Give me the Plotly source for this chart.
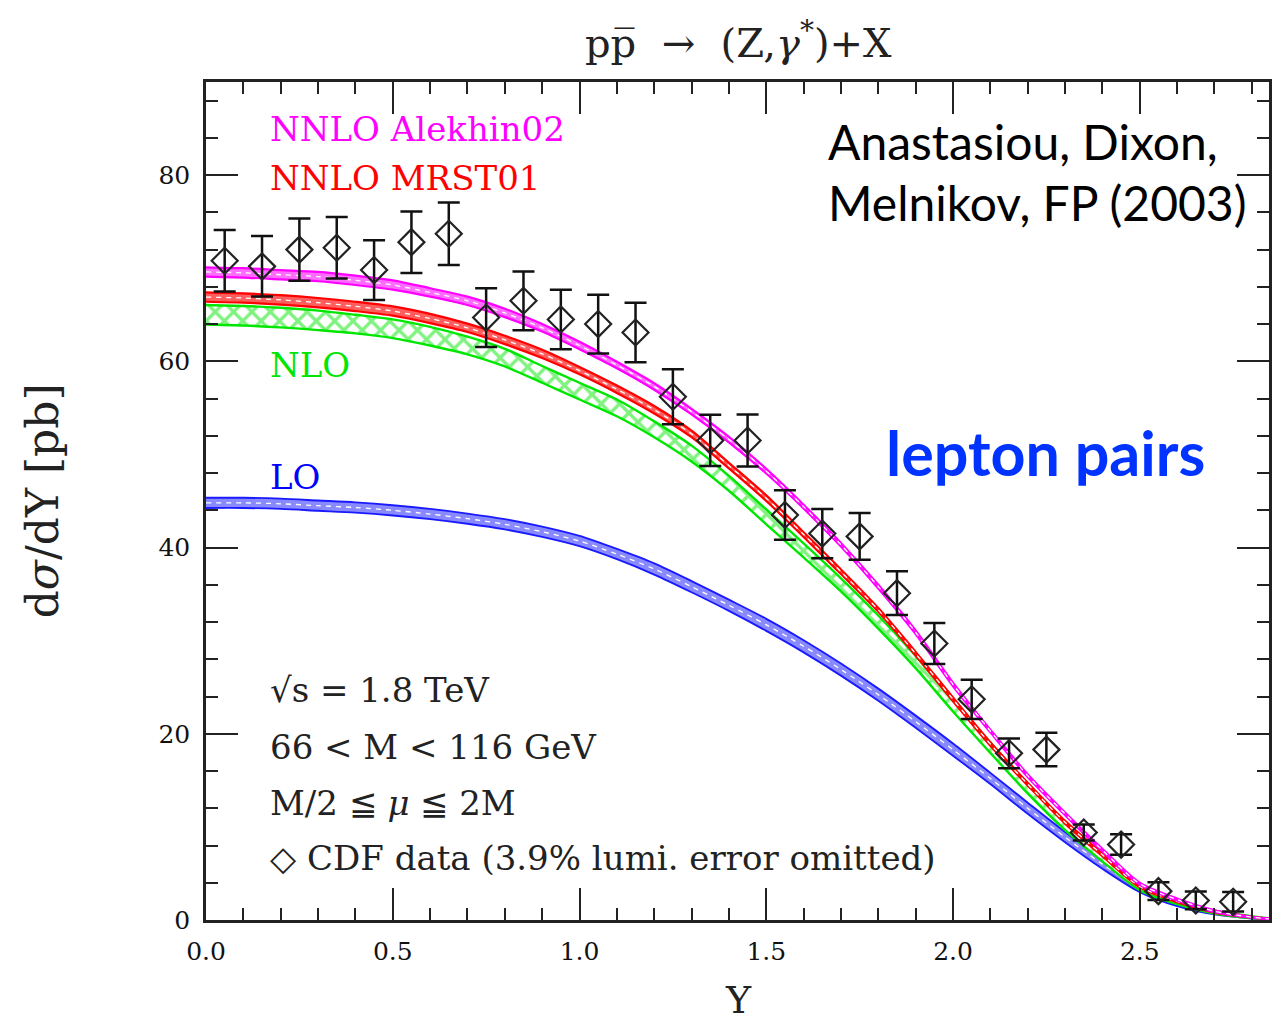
import plotly.graph_objects as go

# ---------------- data ----------------
Y_GRID = [0.0, 0.1, 0.2, 0.3, 0.4, 0.5, 0.6, 0.7, 0.8, 0.9, 1.0, 1.1, 1.2, 1.3, 1.4,
          1.5, 1.6, 1.7, 1.8, 1.9, 2.0, 2.1, 2.2, 2.3, 2.4, 2.5, 2.6, 2.7, 2.8, 2.85]

NNLO_ALEKHIN = [69.6, 69.5, 69.3, 69.1, 68.7, 68.2, 67.4, 66.5, 65.2, 63.6, 61.7, 59.6, 57.3, 54.6, 51.6,
                48.2, 44.4, 40.3, 35.8, 30.9, 25.3, 20.3, 15.5, 11.4, 7.5, 3.9, 2.2, 0.95, 0.3, 0.1]
NNLO_ALEKHIN_HW = [0.5, 0.5, 0.5, 0.5, 0.5, 0.5, 0.45, 0.45, 0.45, 0.4, 0.4, 0.35, 0.35, 0.3, 0.3,
                   0.25, 0.2, 0.2, 0.2, 0.2, 0.2, 0.15, 0.15, 0.15, 0.15, 0.1, 0.1, 0.1, 0.05, 0.05]

NNLO_MRST = [66.9, 66.8, 66.6, 66.3, 65.9, 65.4, 64.6, 63.6, 62.3, 60.8, 59.0, 57.0, 54.8, 52.2, 48.8,
             45.3, 41.4, 37.4, 33.3, 28.6, 23.7, 18.9, 14.6, 10.5, 7.0, 3.6, 2.0, 0.9, 0.3, 0.1]
NNLO_MRST_HW = [0.5, 0.5, 0.5, 0.5, 0.5, 0.5, 0.5, 0.45, 0.45, 0.45, 0.4, 0.4, 0.4, 0.35, 0.3,
                0.3, 0.25, 0.25, 0.2, 0.2, 0.2, 0.2, 0.15, 0.15, 0.15, 0.1, 0.1, 0.1, 0.05, 0.05]

NLO = [65.0, 64.9, 64.7, 64.4, 64.0, 63.5, 62.7, 61.7, 60.4, 58.6, 56.8, 55.0, 52.7, 50.1, 46.9,
       43.3, 39.7, 36.0, 32.0, 27.7, 23.0, 18.5, 14.1, 10.1, 6.7, 3.5, 1.9, 0.85, 0.3, 0.1]
NLO_HW = [1.05, 1.05, 1.05, 1.05, 1.0, 1.0, 1.0, 0.95, 0.95, 0.9, 0.9, 0.9, 0.85, 0.85, 0.8,
          0.8, 0.75, 0.7, 0.7, 0.65, 0.6, 0.55, 0.5, 0.45, 0.4, 0.3, 0.2, 0.15, 0.1, 0.05]

LO = [44.8, 44.8, 44.7, 44.5, 44.3, 44.0, 43.6, 43.1, 42.5, 41.7, 40.7, 39.3, 37.7, 35.8, 33.8,
      31.7, 29.4, 26.9, 24.2, 21.3, 18.3, 15.2, 12.0, 8.9, 6.0, 3.4, 1.8, 0.8, 0.25, 0.08]
LO_HW = [0.55, 0.55, 0.55, 0.55, 0.55, 0.55, 0.55, 0.55, 0.55, 0.55, 0.55, 0.55, 0.6, 0.6, 0.6,
         0.65, 0.65, 0.65, 0.65, 0.65, 0.65, 0.6, 0.6, 0.55, 0.5, 0.4, 0.3, 0.2, 0.1, 0.05]

CDF_Y = [0.05, 0.15, 0.25, 0.35, 0.45, 0.55, 0.65, 0.75, 0.85, 0.95, 1.05, 1.15, 1.25, 1.35,
         1.45, 1.55, 1.65, 1.75, 1.85, 1.95, 2.05, 2.15, 2.25, 2.35, 2.45, 2.55, 2.65, 2.75]
CDF_VAL = [70.8, 70.2, 72.0, 72.2, 69.8, 72.8, 73.7, 64.7, 66.5, 64.5, 64.0, 63.1, 56.2, 51.5,
           51.5, 43.5, 41.5, 41.2, 35.1, 29.7, 23.7, 17.9, 18.3, 9.4, 8.1, 3.1, 2.1, 1.95]
CDF_ERR = [3.3, 3.25, 3.35, 3.3, 3.2, 3.3, 3.35, 3.15, 3.15, 3.2, 3.15, 3.2, 2.95, 2.75,
           2.8, 2.65, 2.65, 2.5, 2.35, 2.2, 2.1, 1.6, 1.8, 0.85, 1.1, 0.95, 0.95, 1.05]

X_TICKS = [0.0, 0.5, 1.0, 1.5, 2.0, 2.5]
X_TICKTEXT = ["0.0", "0.5", "1.0", "1.5", "2.0", "2.5"]
Y_TICKS = [0, 20, 40, 60, 80]

SERIF = "DejaVu Serif"
AXCOL = "#222222"

fig = go.Figure()


def add_band(center, hw, color, fill_rgba, pattern=None, dash_center=True, lw=2.0):
    lo = [c - h for c, h in zip(center, hw)]
    hi = [c + h for c, h in zip(center, hw)]
    line = dict(color=color, width=lw, shape="spline", smoothing=0.8)
    fig.add_trace(go.Scatter(x=Y_GRID, y=lo, mode="lines", line=line,
                             showlegend=False, hoverinfo="skip"))
    kw = dict(fill="tonexty")
    if pattern:
        kw["fillcolor"] = "white"
        kw["fillpattern"] = dict(shape=pattern, fgcolor=color, bgcolor="white",
                                 size=13, solidity=0.45)
    else:
        kw["fillcolor"] = fill_rgba
    fig.add_trace(go.Scatter(x=Y_GRID, y=hi, mode="lines", line=line,
                             showlegend=False, hoverinfo="skip", **kw))
    if dash_center:
        fig.add_trace(go.Scatter(x=Y_GRID, y=center, mode="lines",
                                 line=dict(color="white", width=1.3, dash="5px,5px",
                                           shape="spline", smoothing=0.8),
                                 showlegend=False, hoverinfo="skip"))


add_band(LO, LO_HW, "#1a1aff", "rgba(60,60,255,0.6)", lw=1.9)
add_band(NLO, NLO_HW, "#00e600", None, pattern="x", dash_center=False, lw=2.4)
add_band(NNLO_MRST, NNLO_MRST_HW, "#ff0000", "rgba(255,40,40,0.75)", lw=2.2)
add_band(NNLO_ALEKHIN, NNLO_ALEKHIN_HW, "#ff00ff", "rgba(255,60,255,0.75)", lw=2.2)

fig.add_trace(go.Scatter(
    x=CDF_Y, y=CDF_VAL, mode="markers",
    marker=dict(symbol="diamond-open", size=20, color="#222222", line=dict(width=2.2, color="#222222")),
    error_y=dict(type="data", array=CDF_ERR, color="#111111", thickness=2.5, width=11),
    showlegend=False))

axis_common = dict(
    ticks="inside", ticklen=32, tickwidth=2, tickcolor=AXCOL,
    showline=True, linewidth=2.5, linecolor=AXCOL, mirror="ticks",
    showgrid=False, zeroline=False,
    tickfont=dict(family=SERIF, size=25, color="#111111"),
)

fig.update_xaxes(range=[0, 2.846], tickvals=X_TICKS, ticktext=X_TICKTEXT,
                 minor=dict(ticks="inside", ticklen=12, dtick=0.1, tick0=0, tickwidth=2,
                            tickcolor=AXCOL, showgrid=False),
                 ticklabelstandoff=7, **axis_common)
fig.update_yaxes(range=[0, 90], tickvals=Y_TICKS,
                 minor=dict(ticks="inside", ticklen=12, dtick=4, tick0=0, tickwidth=2,
                            tickcolor=AXCOL, showgrid=False),
                 ticklabelstandoff=8, **axis_common)


def ann(text, x, y, color="#222222", size=32, family=SERIF):
    fig.add_annotation(text=text, x=x, y=y, xref="x", yref="y", showarrow=False,
                       xanchor="left", yanchor="middle",
                       font=dict(family=family, size=size, color=color))


ann("NNLO Alekhin02", 0.165, 84.9, color="#ff00ff", size=34)
ann("NNLO MRST01", 0.165, 79.7, color="#ff0000", size=34)
ann("NLO", 0.165, 59.6, color="#00e600", size=34)
ann("LO", 0.165, 47.6, color="#0000ff", size=34)
ann("√s = 1.8 TeV", 0.165, 24.7, size=34)
ann("66 < M < 116 GeV", 0.165, 18.6, size=34)
ann("M/2 ≦ <i>μ</i> ≦ 2M", 0.165, 12.6, size=34)
ann("◇ CDF data (3.9% lumi. error omitted)", 0.165, 6.7, size=34)

ann("Anastasiou, Dixon,", 1.660, 83.6, size=48, family="Lato", color="#000000")
ann("Melnikov, FP (2003)", 1.660, 77.1, size=48, family="Lato", color="#000000")
ann("<b>lepton pairs</b>", 1.815, 50.2, size=61, family="Lato", color="#0033ff")

fig.add_annotation(text="pp\u0305  \u2192  (Z,<i>γ</i><sup>*</sup>)+X", x=0.501, y=1.050,
                   xref="paper", yref="paper", showarrow=False, xanchor="center", yanchor="middle",
                   font=dict(family=SERIF, size=40, color="#222222"))
fig.add_annotation(text="Y", x=0.501, y=-0.0955, xref="paper", yref="paper", showarrow=False,
                   xanchor="center", yanchor="middle",
                   font=dict(family=SERIF, size=38, color="#222222"))
fig.add_annotation(text="d<i>σ</i>/dY [pb]", x=-0.154, y=0.5, xref="paper", yref="paper",
                   showarrow=False, textangle=-90, xanchor="center", yanchor="middle",
                   font=dict(family=SERIF, size=44, color="#222222"))

fig.update_layout(width=1276, height=1021, margin=dict(l=206, r=4, t=82, b=101),
                  plot_bgcolor="white", paper_bgcolor="white", showlegend=False)

fig.write_html("out.html")
